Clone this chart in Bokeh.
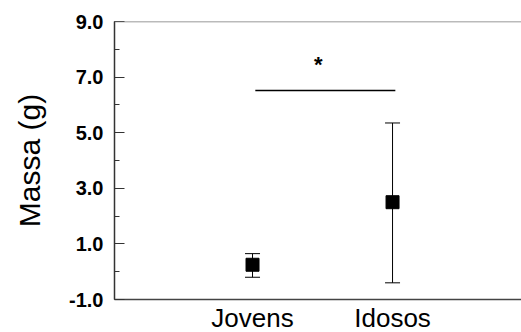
from bokeh.plotting import figure
from bokeh.models import FixedTicker, Span, Whisker, ColumnDataSource, Range1d
from bokeh.embed import file_html
from bokeh.resources import INLINE
from bokeh.core.properties import value

# Data
groups = ["Jovens", "Idosos"]
group_x = [1, 2]
means = [0.25, 2.5]
err_low = [-0.2, -0.4]
err_high = [0.65, 5.35]
y_major_ticks = [-1, 1, 3, 5, 7, 9]
y_minor_ticks = [-1, 0, 1, 2, 3, 4, 5, 6, 7, 8, 9]
sig_x = [1.02, 2.02]
sig_y = [6.52, 6.52]
star_x = [1.47]
star_y = [7.45]

FONT = "Liberation Sans"

p = figure(frame_width=407, frame_height=278, output_backend="svg", toolbar_location=None,
           x_range=Range1d(0.0143, 2.921), y_range=Range1d(-1, 9),
           min_border_left=114, min_border_right=0, min_border_top=21, min_border_bottom=0)
p.outline_line_color = None
p.grid.visible = False
p.background_fill_color = "white"
p.border_fill_color = "white"

src = ColumnDataSource(dict(x=group_x, m=means, lo=err_low, hi=err_high))
w = Whisker(source=src, base="x", lower="lo", upper="hi", line_color="black", line_width=1)
w.upper_head.size = 15
w.lower_head.size = 15
w.upper_head.line_width = 1
w.lower_head.line_width = 1
p.add_layout(w)
p.scatter("x", "m", source=src, marker="square", size=13, fill_color="black", line_color="black")

p.line(sig_x, sig_y, line_color="black", line_width=1.5)
p.text(star_x, star_y, text=["*"], text_font=value(FONT), text_font_size="22px",
       text_font_style="bold", text_align="center", text_baseline="middle", text_color="black")

p.add_layout(Span(location=9, dimension="width", line_color="#777777", line_width=1.5))

# y axis
ya = p.yaxis[0]
ya.ticker = FixedTicker(ticks=y_major_ticks, minor_ticks=y_minor_ticks)
ya.major_label_overrides = {t: f"{t:.1f}" for t in y_major_ticks}
ya.major_tick_in = 10
ya.major_tick_out = 0
ya.minor_tick_in = 5
ya.minor_tick_out = 0
ya.axis_line_color = "#333333"
ya.axis_line_width = 1.5
ya.major_tick_line_color = "#333333"
ya.minor_tick_line_color = "#333333"
ya.major_label_text_font = FONT
ya.major_label_text_font_style = "bold"
ya.major_label_text_font_size = "20px"
ya.major_label_text_color = "black"
ya.major_label_standoff = 11
ya.axis_label = "Massa (g)"
ya.axis_label_text_font = FONT
ya.axis_label_text_font_style = "normal"
ya.axis_label_text_font_size = "30px"
ya.axis_label_text_color = "black"
ya.axis_label_standoff = 20

# x axis
xa = p.xaxis[0]
xa.ticker = FixedTicker(ticks=group_x)
xa.major_label_overrides = {x: g for x, g in zip(group_x, groups)}
xa.major_tick_line_color = None
xa.minor_tick_line_color = None
xa.axis_line_color = "#444444"
xa.axis_line_width = 1.5
xa.major_label_text_font = FONT
xa.major_label_text_font_size = "26px"
xa.major_label_text_color = "black"
xa.major_label_standoff = -3

open("out.html", "w").write(file_html(p, INLINE))
